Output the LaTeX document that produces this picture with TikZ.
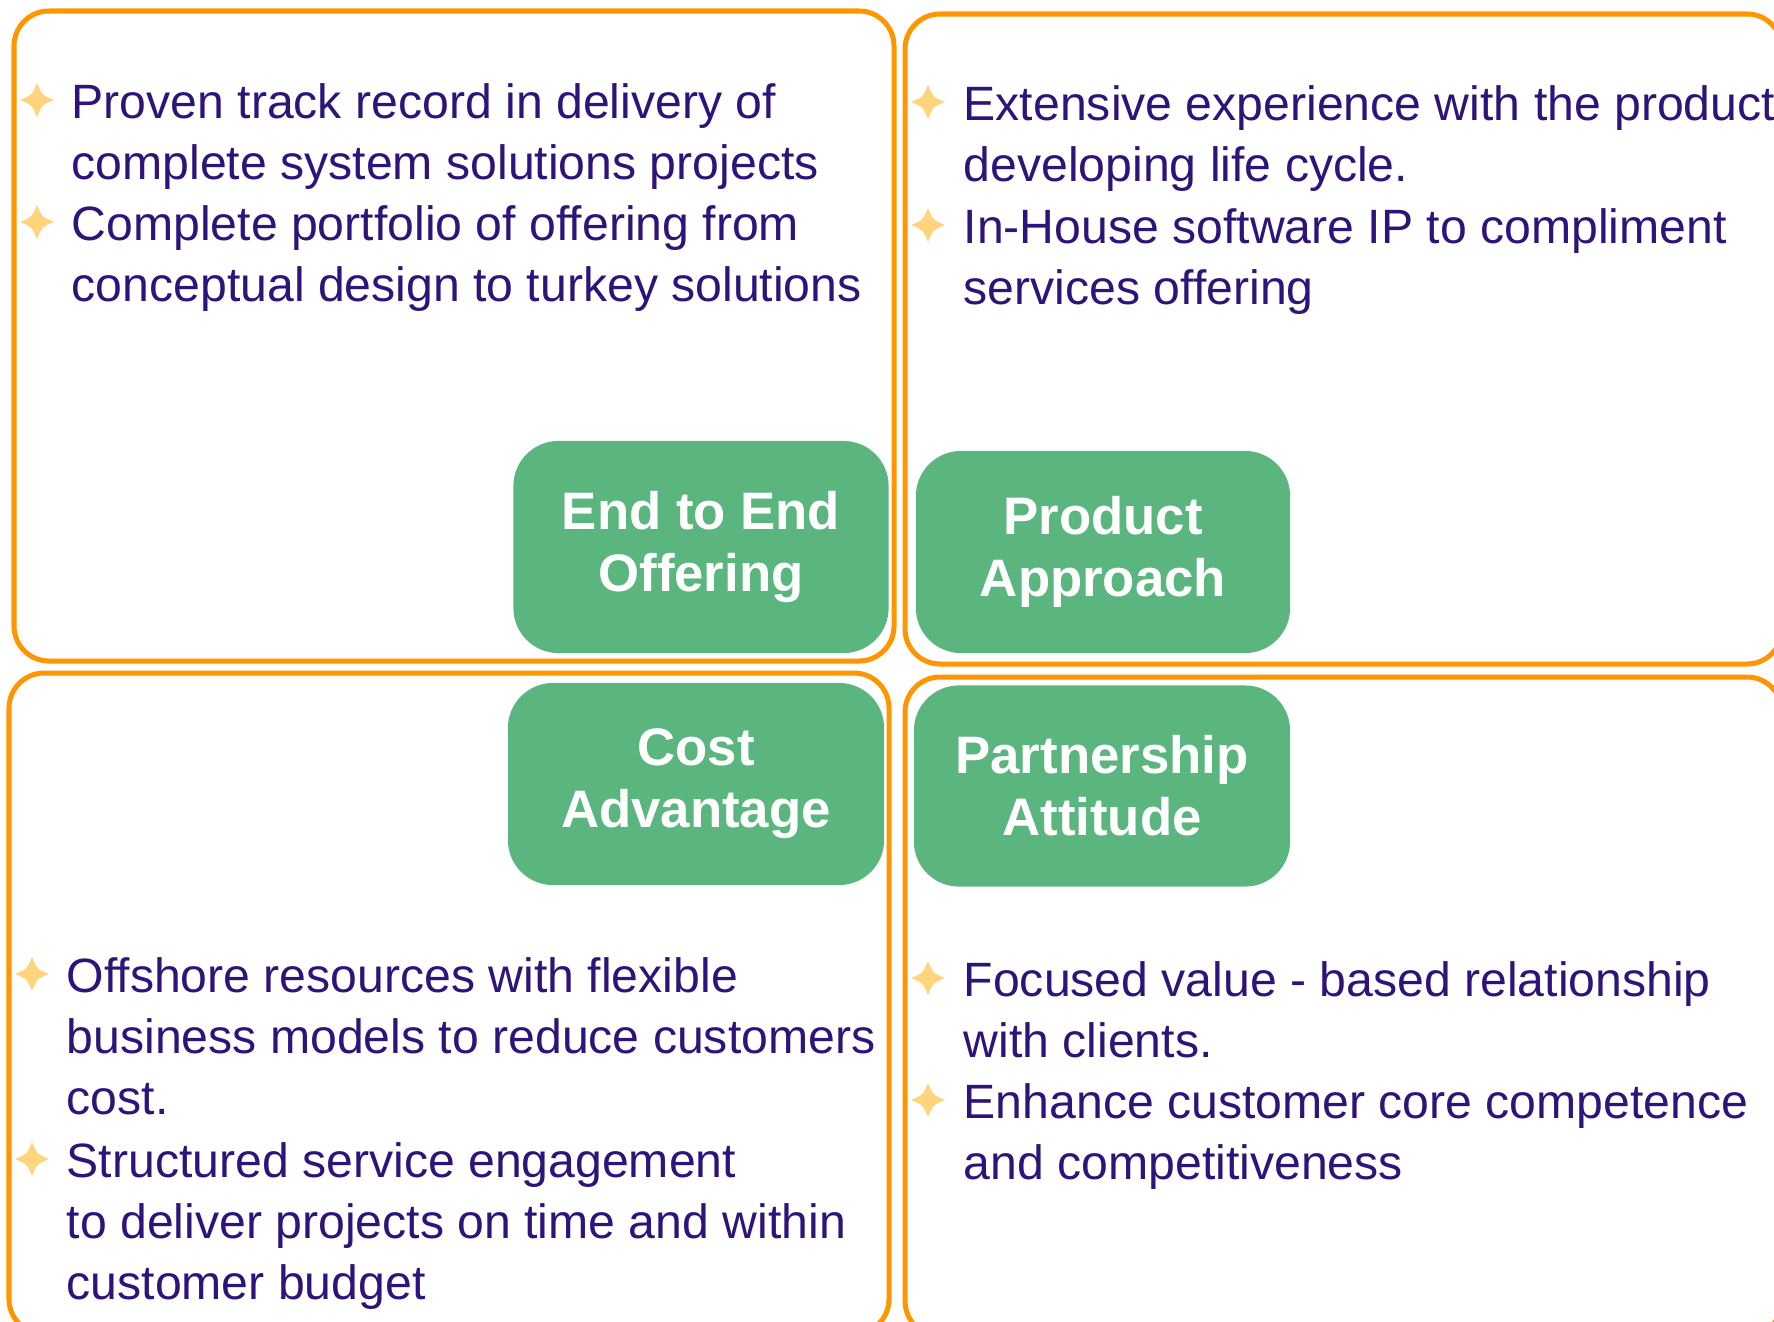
\documentclass[tikz,border=0pt]{standalone}
\usepackage{fontspec}
\setmainfont{Liberation Sans}

\definecolor{boxorange}{RGB}{255,150,0}
\definecolor{cardgreen}{RGB}{90,182,126}
\definecolor{inktext}{RGB}{46,20,122}
\definecolor{stargold}{RGB}{255,212,125}

\tikzset{
  quadbox/.style={draw=boxorange, line width=0.5mm, rounded corners=3.5mm},
  card/.style={fill=cardgreen, rounded corners=4.5mm, text=white, align=center,
    inner sep=0pt, font=\fontsize{15}{17.6}\selectfont\bfseries},
  bullettext/.style={anchor=base west, align=left, inner sep=0pt, text=inktext,
    font=\fontsize{13.7}{17.3}\selectfont}
}

\begin{document}
\begin{tikzpicture}[x=0.01cm, y=-0.01cm]

    % Fix the page to the size of the picture
    \useasboundingbox (0,0) rectangle (1774,1321);

    % Draw the four orange quadrant frames
    \draw[quadbox] (14,11) rectangle (894,661);
    \draw[quadbox] (905,14) rectangle (1782,664);
    \draw[quadbox] (9,673) rectangle (889,1334);
    \draw[quadbox] (905,677) rectangle (1782,1336);

    % Green cards in the middle
    \node[card, minimum width=37.5mm, minimum height=21.2mm] (endtoend) at (701,547) {End to End\\Offering};
    \node[card, minimum width=37.4mm, minimum height=20.2mm] (product) at (1103,552) {Product\\Approach};
    \node[card, minimum width=37.6mm, minimum height=20.2mm] (cost) at (696,784) {Cost\\Advantage};
    \node[card, minimum width=37.6mm, minimum height=20.1mm] (partner) at (1102,786) {Partnership\\Attitude};

    % Star bullets
    \foreach \sx/\sy in {37/100, 37/222, 928/102, 928/225, 32/974, 32/1159, 928/978, 928/1100}
      \fill[stargold, shift={(\sx,\sy)}] (0,-17) .. controls (5,-5) .. (17,0)
        .. controls (5,5) .. (0,17) .. controls (-5,5) .. (-17,0)
        .. controls (-5,-5) .. cycle;

    % Top left texts (placed at the baseline of their last line)
    \node[bullettext] (tlone) at (71,179) {Proven track record in delivery of\\complete system solutions projects};
    \node[bullettext] (tltwo) at (71,301) {Complete portfolio of offering from\\conceptual design to turkey solutions};

    % Top right texts
    \node[bullettext] (trone) at (963,181) {Extensive experience with the product\\developing life cycle.};
    \node[bullettext] (trtwo) at (963,304) {In-House software IP to compliment\\services offering};

    % Bottom left texts
    \node[bullettext] (blone) at (66,1114) {Offshore resources with flexible\\business models to reduce customers\\cost.};
    \node[bullettext] (bltwo) at (66,1299) {Structured service engagement\\to deliver projects on time and within\\customer budget};

    % Bottom right texts
    \node[bullettext] (brone) at (963,1057) {Focused value - based relationship\\with clients.};
    \node[bullettext] (brtwo) at (963,1179) {Enhance customer core competence\\and competitiveness};

\end{tikzpicture}
\end{document}
